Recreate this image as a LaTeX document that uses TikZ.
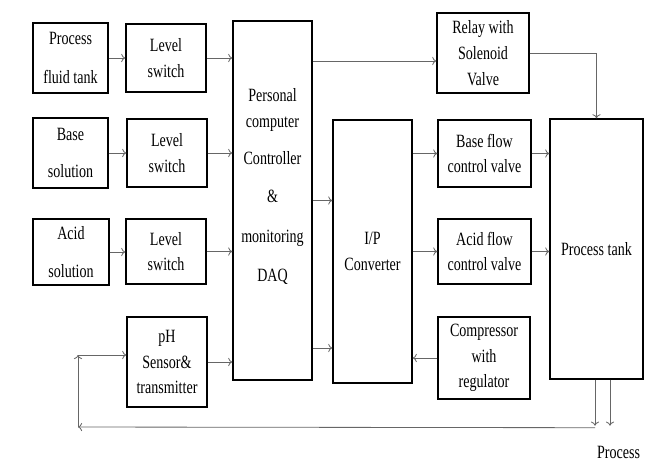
\documentclass[tikz,border=0pt]{standalone}
\usepackage{fontspec}
\setmainfont[FakeStretch=0.75]{Liberation Serif}
\usetikzlibrary{arrows,arrows.meta,positioning,calc}

\begin{document}
\begin{tikzpicture}
[x=0.03cm,y=-0.03cm,
 blk/.style={draw,line width=1.2pt,align=center,inner sep=0pt,
   font=\fontsize{16}{22}\selectfont},
 sz/.style 2 args={minimum width=#1*0.03cm,minimum height=#2*0.03cm},
 arr/.style={-{To[length=3.5pt,width=7pt]},draw=black!60,line width=0.7pt}]
\useasboundingbox (0,0) rectangle (646,463);
% left column
\node[blk,sz={75}{70}] (tank) at (70.5,58) {Process\\[12pt]fluid tank};
\node[blk,sz={75}{70}] (base) at (70.5,153) {Base\\[10pt]solution};
\node[blk,sz={76}{66}] (acid) at (71,252) {Acid\\[10pt]solution};
% level switches and sensor
\node[blk,sz={80}{68}] (ls1) at (166,58) {Level\\switch};
\node[blk,sz={80}{68}] (ls2) at (167,153) {Level\\switch};
\node[blk,sz={80}{65}] (ls3) at (166,251.5) {Level\\switch};
\node[blk,sz={80}{90}] (ph) at (167,362) {pH\\Sensor\&\\transmitter};
% computer and converter
\node[blk,sz={79}{359}] (pc) at (272.5,200.5)
  {Personal\\computer\\[10pt]Controller\\[10pt]\&\\[12pt]monitoring\\[12pt]DAQ\\[4pt]~};
\node[blk,sz={79}{263}] (ip) at (372.5,251.5) {I/P\\Converter};
% valves
\node[blk,sz={92}{80}] (relay) at (483,53) {Relay with\\Solenoid\\Valve};
\node[blk,sz={93}{67}] (bflow) at (484.5,153.5) {Base flow\\control valve};
\node[blk,sz={93}{65}] (aflow) at (484.5,251.5) {Acid flow\\control valve};
\node[blk,sz={92}{82}] (comp) at (484,358) {Compressor\\with\\regulator};
\node[blk,sz={93}{260}] (ptank) at (596.5,249) {Process tank};
\node[font=\fontsize{16}{22}\selectfont,anchor=base] (proc) at (618.5,458) {Process};
% outlet and feedback points
\coordinate (out1) at ($(ptank.south)+(-1.5,48)$);
\coordinate (out2) at ($(ptank.south)+(13.5,46)$);
\coordinate (fbl) at (78,427);
\coordinate (fbu) at (78,355);
% connectors
\draw[arr] (tank) -- (tank -| ls1.west);
\draw[arr] (base) -- (base -| ls2.west);
\draw[arr] (acid) -- (acid -| ls3.west);
\draw[arr] (ls1.east) -- (ls1.east -| pc.west);
\draw[arr] (ls2.east) -- (ls2.east -| pc.west);
\draw[arr] (ls3.east) -- (ls3.east -| pc.west);
\draw[arr] (ph.east) -- (ph.east -| pc.west);
\draw[arr] (pc.east |- 0,61) -- (relay.west |- 0,61);
\draw[arr] (relay.east) -| (ptank.north);
\draw[arr] (pc.east) -- (pc.east -| ip.west);
\draw[arr] (pc.east |- 0,348) -- (ip.west |- 0,348);
\draw[arr] (ip.east |- bflow) -- (bflow.west);
\draw[arr] (ip.east |- aflow) -- (aflow.west);
\draw[arr] (bflow.east) -- (bflow.east -| ptank.west);
\draw[arr] (aflow.east) -- (aflow.east -| ptank.west);
\draw[arr] (comp.west) -- (comp.west -| ip.east);
\draw[arr] (ptank.south -| out1) -- ($(out1)+(0,-2)$);
\draw[arr] (ptank.south -| out2) -- (out2);
\draw[arr] (out1) -- (fbl);
\draw[arr] (fbl) -- (fbu);
\draw[arr] (fbu) -- (fbu -| ph.west);
\end{tikzpicture}
\end{document}
